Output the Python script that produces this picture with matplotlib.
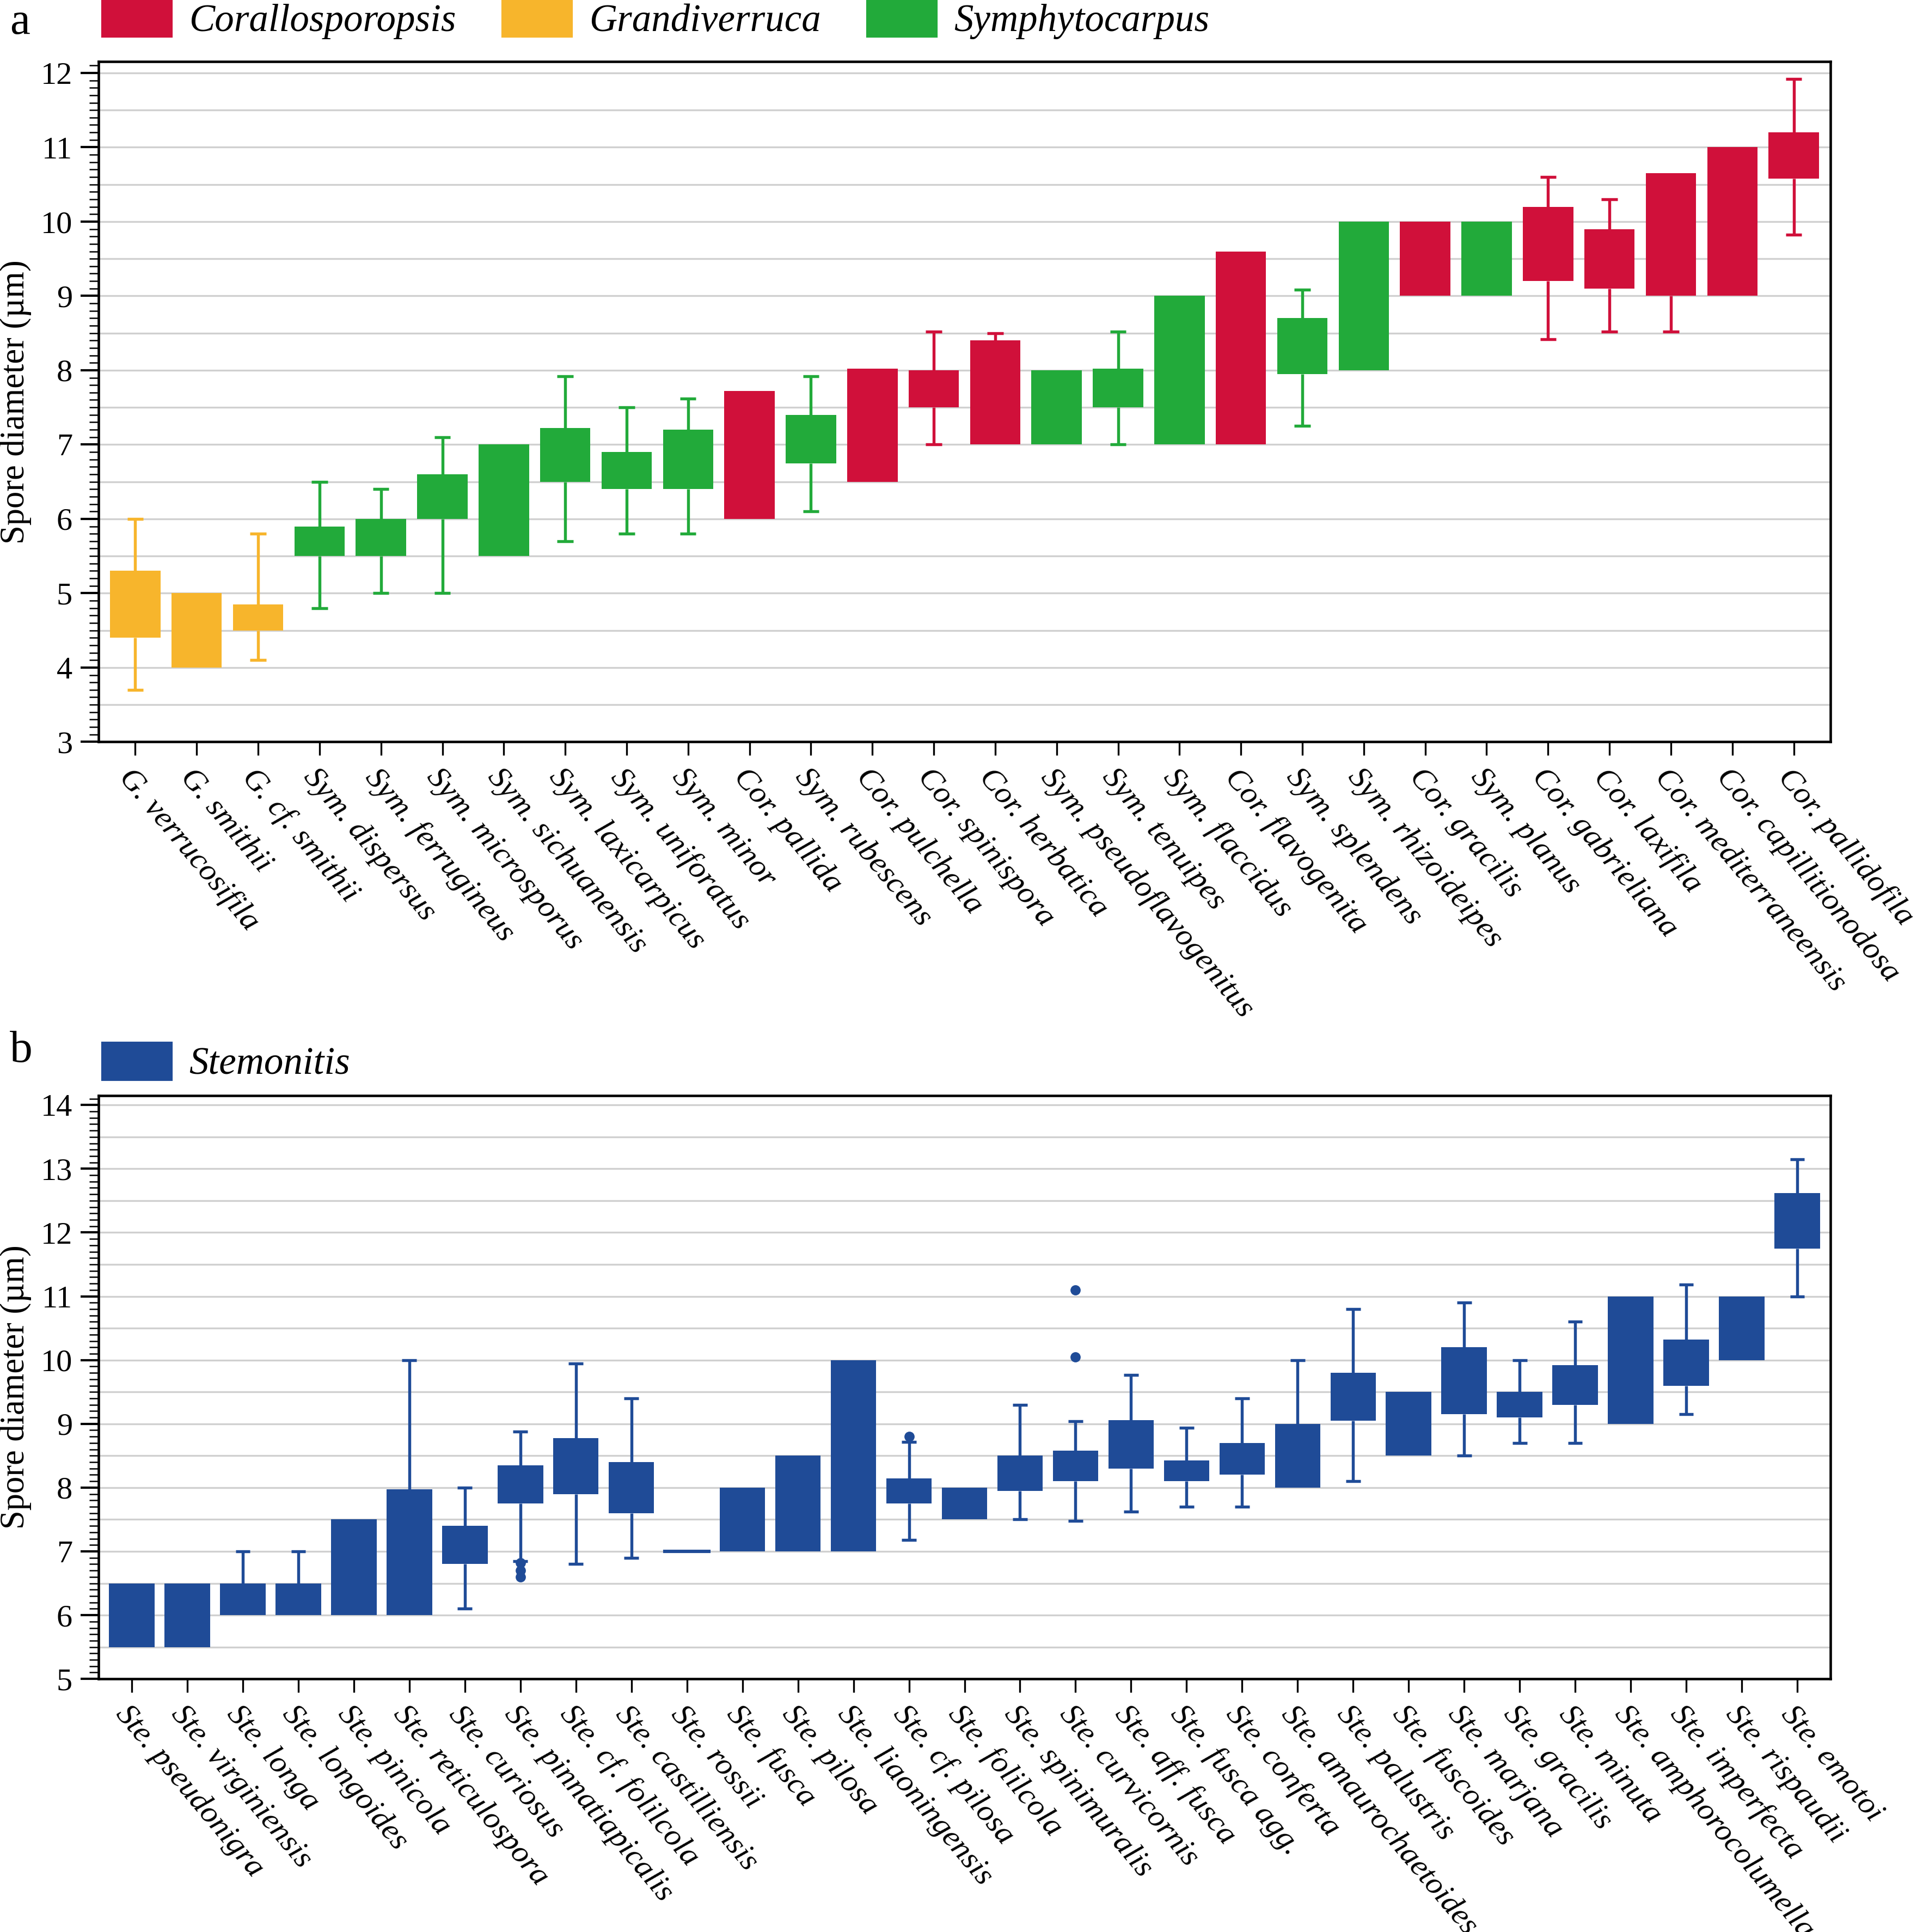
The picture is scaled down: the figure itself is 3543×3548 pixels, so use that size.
import matplotlib
matplotlib.use("Agg")
import matplotlib.pyplot as plt
from matplotlib.patches import Patch
from matplotlib.ticker import MultipleLocator

plt.rcParams['font.family'] = ['Liberation Serif', 'DejaVu Serif']

RED = '#D0103A'
YEL = '#F7B52C'
GRN = '#22AA3A'
BLU = '#1F4B97'

# name, box low, box high, whisker low, whisker high (None = no whisker)
data_a = [
    ("G. verrucosifila", 4.4, 5.3, 3.7, 6.0),
    ("G. smithii", 4.0, 5.0, None, None),
    ("G. cf. smithii", 4.5, 4.85, 4.1, 5.8),
    ("Sym. dispersus", 5.5, 5.9, 4.8, 6.5),
    ("Sym. ferrugineus", 5.5, 6.0, 5.0, 6.4),
    ("Sym. microsporus", 6.0, 6.6, 5.0, 7.1),
    ("Sym. sichuanensis", 5.5, 7.0, None, None),
    ("Sym. laxicarpicus", 6.5, 7.22, 5.7, 7.92),
    ("Sym. uniforatus", 6.4, 6.9, 5.8, 7.5),
    ("Sym. minor", 6.4, 7.2, 5.8, 7.62),
    ("Cor. pallida", 6.0, 7.72, None, None),
    ("Sym. rubescens", 6.75, 7.4, 6.1, 7.92),
    ("Cor. pulchella", 6.5, 8.02, None, None),
    ("Cor. spinispora", 7.5, 8.0, 7.0, 8.52),
    ("Cor. herbatica", 7.0, 8.4, None, 8.5),
    ("Sym. pseudoflavogenitus", 7.0, 8.0, None, None),
    ("Sym. tenuipes", 7.5, 8.02, 7.0, 8.52),
    ("Sym. flaccidus", 7.0, 9.0, None, None),
    ("Cor. flavogenita", 7.0, 9.6, None, None),
    ("Sym. splendens", 7.95, 8.7, 7.25, 9.08),
    ("Sym. rhizoideipes", 8.0, 10.0, None, None),
    ("Cor. gracilis", 9.0, 10.0, None, None),
    ("Sym. planus", 9.0, 10.0, None, None),
    ("Cor. gabrieliana", 9.2, 10.2, 8.42, 10.6),
    ("Cor. laxifila", 9.1, 9.9, 8.52, 10.3),
    ("Cor. mediterraneensis", 9.0, 10.65, 8.52, None),
    ("Cor. capillitionodosa", 9.0, 11.0, None, None),
    ("Cor. pallidofila", 10.58, 11.2, 9.82, 11.92),
]

data_b = [
    ("Ste. pseudonigra", 5.5, 6.5, None, None, []),
    ("Ste. virginiensis", 5.5, 6.5, None, None, []),
    ("Ste. longa", 6.0, 6.5, None, 7.0, []),
    ("Ste. longoides", 6.0, 6.5, None, 7.0, []),
    ("Ste. pinicola", 6.0, 7.5, None, None, []),
    ("Ste. reticulospora", 6.0, 7.97, None, 10.0, []),
    ("Ste. curiosus", 6.8, 7.4, 6.1, 8.0, []),
    ("Ste. pinnatiapicalis", 7.75, 8.35, 6.85, 8.88, [6.6, 6.7, 6.82]),
    ("Ste. cf. folilcola", 7.9, 8.78, 6.8, 9.95, []),
    ("Ste. castilliensis", 7.6, 8.4, 6.9, 9.4, []),
    ("Ste. rossii", 6.99, 7.01, None, None, []),
    ("Ste. fusca", 7.0, 8.0, None, None, []),
    ("Ste. pilosa", 7.0, 8.5, None, None, []),
    ("Ste. liaoningensis", 7.0, 10.0, None, None, []),
    ("Ste. cf. pilosa", 7.75, 8.14, 7.18, 8.72, [8.8]),
    ("Ste. folilcola", 7.5, 8.0, None, None, []),
    ("Ste. spinimuralis", 7.95, 8.5, 7.5, 9.3, []),
    ("Ste. curvicornis", 8.1, 8.58, 7.48, 9.04, [10.05, 11.1]),
    ("Ste. aff. fusca", 8.3, 9.06, 7.62, 9.77, []),
    ("Ste. fusca agg.", 8.1, 8.43, 7.7, 8.94, []),
    ("Ste. conferta", 8.2, 8.7, 7.7, 9.4, []),
    ("Ste. amaurochaetoides", 8.0, 9.0, None, 10.0, []),
    ("Ste. palustris", 9.05, 9.8, 8.1, 10.8, []),
    ("Ste. fuscoides", 8.5, 9.5, None, None, []),
    ("Ste. marjana", 9.15, 10.2, 8.5, 10.9, []),
    ("Ste. gracilis", 9.1, 9.5, 8.7, 10.0, []),
    ("Ste. minuta", 9.3, 9.92, 8.7, 10.6, []),
    ("Ste. amphorocolumella", 9.0, 11.0, None, None, []),
    ("Ste. imperfecta", 9.6, 10.32, 9.15, 11.18, []),
    ("Ste. rispaudii", 10.0, 11.0, None, None, []),
    ("Ste. emotoi", 11.75, 12.62, 11.0, 13.15, []),
]


def genus_color(name):
    if name.startswith("G."):
        return YEL
    if name.startswith("Sym."):
        return GRN
    if name.startswith("Cor."):
        return RED
    return BLU


def draw(ax, rows, ylim):
    for i, r in enumerate(rows):
        name, lo, hi, wlo, whi = r[:5]
        c = genus_color(name)
        if wlo is not None:
            ax.vlines(i, wlo, lo, color=c, lw=1.3, zorder=2)
            ax.hlines(wlo, i - 0.13, i + 0.13, color=c, lw=1.3, zorder=2)
        if whi is not None:
            ax.vlines(i, hi, whi, color=c, lw=1.3, zorder=2)
            ax.hlines(whi, i - 0.13, i + 0.13, color=c, lw=1.3, zorder=2)
        ax.bar(i, hi - lo, bottom=lo, width=0.82, color=c, zorder=3,
               edgecolor=c if hi - lo < 0.05 else 'none', lw=1)
        if len(r) > 5:
            for o in r[5]:
                ax.plot(i, o, 'o', ms=3.5, color=c, zorder=4)
    ax.set_xlim(-0.6, len(rows) - 0.4)
    ax.set_ylim(*ylim)
    ax.yaxis.set_major_locator(MultipleLocator(1))
    ax.yaxis.set_minor_locator(MultipleLocator(0.1))
    ax.grid(axis='y', which='major', color='#d0d0d0', lw=0.8, zorder=0)
    for y in [v + 0.5 for v in range(int(ylim[0]), int(ylim[1]))]:
        ax.axhline(y, color='#d0d0d0', lw=0.8, zorder=0)
    ax.set_xticks(range(len(rows)))
    ax.set_xticklabels([r[0] for r in rows], rotation=-50, ha='left',
                       rotation_mode='anchor', style='italic', fontsize=14)
    ax.tick_params(axis='y', labelsize=14, length=8, width=1)
    ax.tick_params(axis='y', which='minor', length=4)
    ax.tick_params(axis='x', length=6)
    ax.set_ylabel("Spore diameter (µm)", fontsize=15)
    for s in ax.spines.values():
        s.set_linewidth(1.1)


fig = plt.figure(figsize=(11.81, 11.827), dpi=300)
ax1 = fig.add_axes([0.051, 0.616, 0.898, 0.352])
ax2 = fig.add_axes([0.051, 0.131, 0.898, 0.302])

draw(ax1, data_a, (3, 12.15))
draw(ax2, data_b, (5, 14.15))

leg_kw = dict(frameon=False, prop={'style': 'italic', 'size': 17},
              handlelength=1.8, handleheight=1.1, handletextpad=0.45,
              borderpad=0, borderaxespad=0, columnspacing=1.2)
h1 = [Patch(color=RED, label="Corallosporopsis"),
      Patch(color=YEL, label="Grandiverruca"),
      Patch(color=GRN, label="Symphytocarpus")]
fig.legend(handles=h1, loc='center left', bbox_to_anchor=(0.053, 0.99), ncol=3, **leg_kw)
h2 = [Patch(color=BLU, label="Stemonitis")]
fig.legend(handles=h2, loc='center left', bbox_to_anchor=(0.053, 0.45), **leg_kw)

fig.text(0.005, 0.988, "a", fontsize=20, va='center')
fig.text(0.005, 0.456, "b", fontsize=20, va='center')

fig.savefig("out.png", dpi=300)
